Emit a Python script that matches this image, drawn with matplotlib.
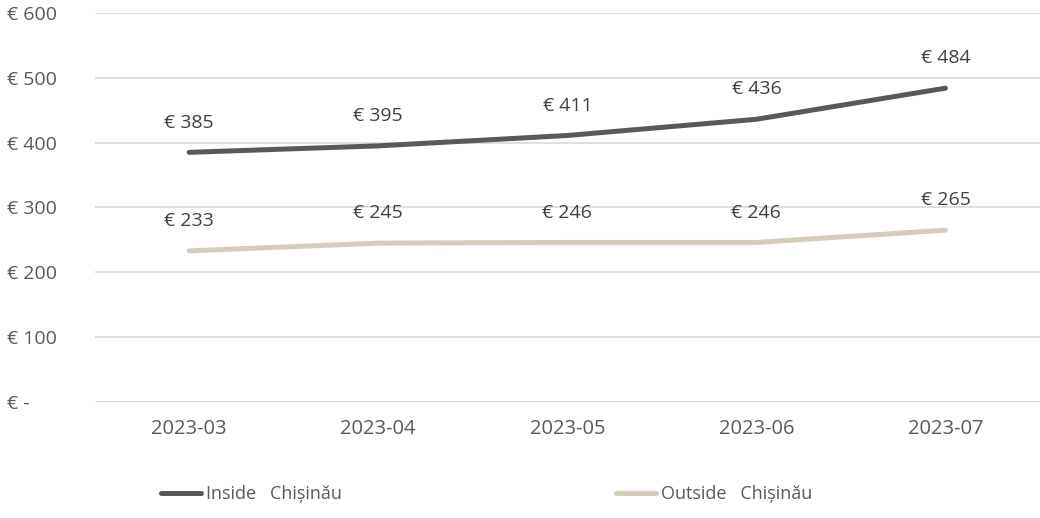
import matplotlib
matplotlib.use("Agg")
import matplotlib.pyplot as plt
import numpy as np

# data
months = ['2023-03', '2023-04', '2023-05', '2023-06', '2023-07']
inside = [385, 395, 411, 436, 484]
outside = [233, 245, 246, 246, 265]
series_names = ['Inside   Chișinău', 'Outside   Chișinău']
y_ticks = [0, 100, 200, 300, 400, 500, 600]

plt.rcParams['font.family'] = ['Open Sans', 'DejaVu Sans']
text_col = '#595959'

fig = plt.figure(figsize=(10.4, 5.18), dpi=100)
ax = fig.add_axes([0.091, 0.224, 0.909, 0.751])

x = np.arange(len(months))
ax.plot(x, inside, color='#595959', lw=3.6, solid_capstyle='round', label=series_names[0], zorder=3)
ax.plot(x, outside, color='#D5CDB9', lw=3.6, solid_capstyle='round', label=series_names[1], zorder=3)

# value labels above points
for vals in (inside, outside):
    for xi, v in zip(x, vals):
        ax.annotate(f'€ {v}', (xi, v), xytext=(0, 15), textcoords='offset points',
                    ha='center', va='bottom', fontsize=14, color='#404040')

ax.set_xlim(-0.5, len(months) - 0.5)
ax.set_ylim(0, 600)
ax.set_yticks(y_ticks)
ax.set_yticklabels(['€ -' if t == 0 else f'€ {t}' for t in y_ticks], ha='left')
ax.set_xticks(x)
ax.set_xticklabels(months)
ax.tick_params(length=0, colors=text_col)
ax.tick_params(axis='y', pad=63, labelsize=14)
ax.tick_params(axis='x', pad=12, labelsize=14.5)
for s in ax.spines.values():
    s.set_visible(False)
ax.yaxis.grid(True, color='#D9D9D9', lw=1.2)
ax.set_axisbelow(True)

leg = fig.legend(loc='center', bbox_to_anchor=(0.468, 0.046), ncol=2, frameon=False,
                 fontsize=13, labelcolor=text_col, handlelength=2.2, handletextpad=0.3,
                 columnspacing=15.2)

fig.savefig('out.png', dpi=100)
